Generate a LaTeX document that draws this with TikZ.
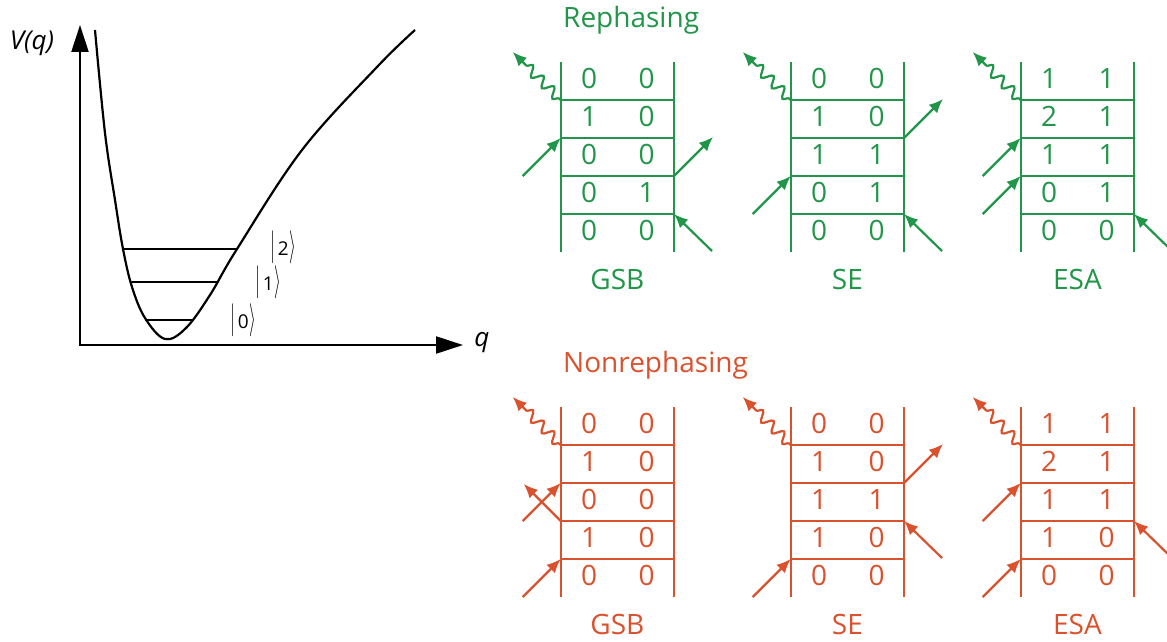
\documentclass[tikz,border=0pt]{standalone}
\usepackage{graphicx}
\usepackage{fontspec}
\setmainfont{Open Sans}
\usetikzlibrary{arrows.meta,decorations.pathmorphing}
\definecolor{grn}{RGB}{33,150,74}
\definecolor{orng}{RGB}{218,82,45}
\tikzset{
  ladline/.style={line width=2.2pt},
  arr/.style={line width=2.2pt,-{Latex[length=14pt,width=12pt]}},
  wavy/.style={line width=2.2pt,decorate,
    decoration={snake,segment length=15pt,amplitude=5pt,pre length=2pt,post length=13pt},
    -{Latex[length=14pt,width=12pt]}},
  dig/.style={font=\fontsize{28}{30}\selectfont,anchor=base,inner sep=0pt},
  title/.style={font=\fontsize{28}{30}\selectfont,anchor=base west,inner sep=0pt},
  axis/.style={line width=2.2pt,{Triangle[length=27pt,width=17pt]}-{Triangle[length=27pt,width=17pt]}},
  curve/.style={line width=2.2pt},
  level/.style={line width=2pt},
  ket/.style={font=\fontsize{19}{21}\selectfont,inner sep=0pt,anchor=base},
}
\newcommand\ketbar{\resizebox*{\width}{33pt}{$|$}}
\newcommand\ketang{\resizebox*{\width}{33pt}{$\rangle$}}
\newcommand\myket[1]{\ketbar\kern3pt#1\kern0.5pt\ketang}
\newcommand\Ladder[6]{%
  \begin{scope}[shift={(#2,#3)},color=#4]
    \coordinate (#1-lt) at (0,0);
    \coordinate (#1-rt) at (113.3,0);
    \coordinate (#1-lb) at (0,190);
    \coordinate (#1-rb) at (113.3,190);
    \foreach \k in {1,...,4}{
      \coordinate (#1-l\k) at (0,38*\k);
      \coordinate (#1-r\k) at (113.3,38*\k);
    }
    \draw[ladline] (#1-lt) -- (#1-lb);
    \draw[ladline] (#1-rt) -- (#1-rb);
    \foreach \k in {1,...,4}{\draw[ladline] (#1-l\k) -- (#1-r\k);}
    \foreach \a/\b [count=\i] in {#5}{
      \node[dig] (#1-a\i) at (28.3,38*\i-11.5) {\a};
      \node[dig] (#1-b\i) at (86,38*\i-11.5) {\b};
    }
    \node[dig] (#1-lab) at (56.7,227) {#6};
  \end{scope}}
\newcommand\InL[2]{\draw[arr,#1] ([shift={(-38,38)}]#2) -- (#2);}
\newcommand\OutL[2]{\draw[arr,#1] (#2) -- ([shift={(-37,-37)}]#2);}
\newcommand\OutR[2]{\draw[arr,#1] (#2) -- ([shift={(39,-39)}]#2);}
\newcommand\InR[2]{\draw[arr,#1] ([shift={(38,37)}]#2) -- (#2);}
\newcommand\Wave[2]{\draw[wavy,#1] (#2) -- ([shift={(-48,-48)}]#2);}
\begin{document}
\begin{tikzpicture}[x=1pt,y=-1pt]
\useasboundingbox (0,0) rectangle (1167,642);
% potential energy curve
\coordinate (O) at (80,345);
\coordinate (Ytip) at (80,25);
\coordinate (Xtip) at (463,345);
\draw[axis] (Ytip) -- (O) -- (Xtip);
\node[font=\fontsize{26}{28}\selectfont\itshape,inner sep=0pt] (Vq) at (32,43) {V(q)};
\node[font=\fontsize{26}{28}\selectfont\itshape,inner sep=0pt] (q) at (482,343) {q};
\draw[curve] plot[smooth,tension=0.6] coordinates {
  (95,30) (105,133) (115,200) (123,249) (132,287) (145,318)
  (165,339) (186,328) (210,295) (237,249) (302,150) (377,67) (415,30)};
\coordinate (l2a) at (123,249); \coordinate (l2b) at (237,249);
\coordinate (l1a) at (131,282); \coordinate (l1b) at (217,282);
\coordinate (l0a) at (145,320); \coordinate (l0b) at (192,320);
\draw[level] (l2a) -- (l2b);
\draw[level] (l1a) -- (l1b);
\draw[level] (l0a) -- (l0b);
\node[ket] (k2) at (283,255) {\myket{2}};
\node[ket] (k1) at (268,290) {\myket{1}};
\node[ket] (k0) at (243,328) {\myket{0}};
% titles
\node[title,text=grn] (reph) at (563,28) {Rephasing};
\node[title,text=orng] (nonreph) at (563,372) {Nonrephasing};
% ladders
\Ladder{rg}{560.7}{62}{grn}{0/0,1/0,0/0,0/1,0/0}{GSB}
\Ladder{rs}{790.7}{62}{grn}{0/0,1/0,1/1,0/1,0/0}{SE}
\Ladder{re}{1020.7}{62}{grn}{1/1,2/1,1/1,0/1,0/0}{ESA}
\Ladder{ng}{560.7}{407}{orng}{0/0,1/0,0/0,1/0,0/0}{GSB}
\Ladder{ns}{790.7}{407}{orng}{0/0,1/0,1/1,1/0,0/0}{SE}
\Ladder{ne}{1020.7}{407}{orng}{1/1,2/1,1/1,1/0,0/0}{ESA}
% rephasing arrows
\Wave{grn}{rg-l1} \InL{grn}{rg-l2} \OutR{grn}{rg-r3} \InR{grn}{rg-r4}
\Wave{grn}{rs-l1} \InL{grn}{rs-l3} \OutR{grn}{rs-r2} \InR{grn}{rs-r4}
\Wave{grn}{re-l1} \InL{grn}{re-l2} \InL{grn}{re-l3} \InR{grn}{re-r4}
% nonrephasing arrows
\Wave{orng}{ng-l1} \InL{orng}{ng-l2} \OutL{orng}{ng-l3} \InL{orng}{ng-l4}
\Wave{orng}{ns-l1} \InL{orng}{ns-l4} \OutR{orng}{ns-r2} \InR{orng}{ns-r3}
\Wave{orng}{ne-l1} \InL{orng}{ne-l2} \InL{orng}{ne-l4} \InR{orng}{ne-r3}
\end{tikzpicture}
\end{document}
